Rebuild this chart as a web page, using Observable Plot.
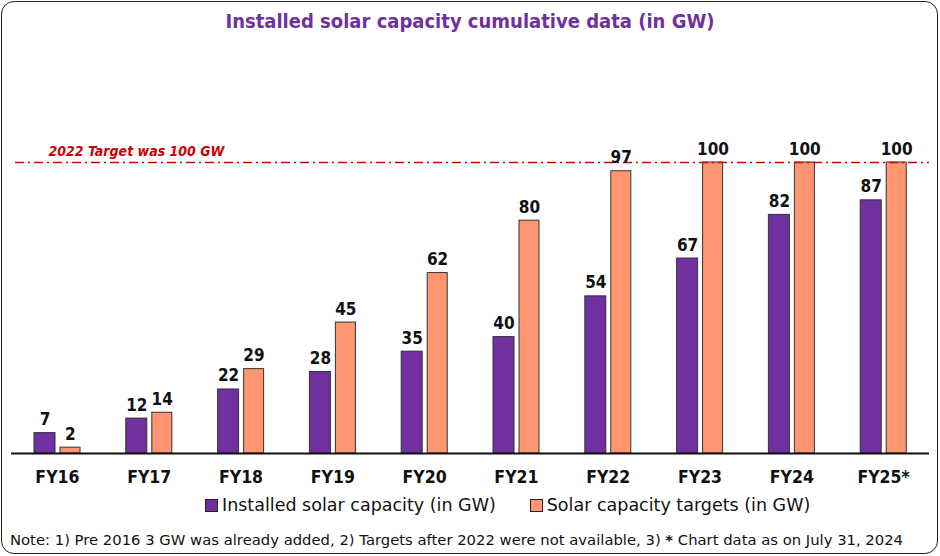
<!DOCTYPE html>
<html>
<head>
<meta charset="utf-8">
<script src="https://cdn.jsdelivr.net/npm/d3@7"></script>
<script src="https://cdn.jsdelivr.net/npm/@observablehq/plot@0.6"></script>
<style>
  html, body { margin: 0; padding: 0; background: #fff; }
  body { width: 940px; height: 556px; overflow: hidden; position: relative; font-family: "DejaVu Sans", sans-serif; }
  #frame { position: absolute; left: 1px; top: 1px; width: 937px; height: 553px; box-sizing: border-box; border: 1.5px solid #222; border-radius: 13px; }
  #title { position: absolute; left: 0; top: 9px; width: 940px; text-align: center; color: #7030A0; font-weight: bold; font-size: 20px; font-family: "DejaVu Sans Condensed", "DejaVu Sans", sans-serif; }
  #chart { position: absolute; left: 0; top: 40px; }
  #legend { position: absolute; left: 205px; top: 495px; font-size: 17.5px; color: #111; display: flex; gap: 34px; white-space: nowrap; }
  #legend .item { display: flex; align-items: center; }
  #legend .sw { width: 11px; height: 11px; border: 1px solid #222; margin-right: 4px; display: inline-block; }
  #note { position: absolute; left: 10px; top: 531px; font-size: 14.8px; color: #111; white-space: nowrap; }
</style>
</head>
<body>
<div id="frame"></div>
<div id="title">Installed solar capacity cumulative data (in GW)</div>
<div id="chart"></div>
<div id="legend"></div>
<div id="note">Note: 1) Pre 2016 3 GW was already added, 2) Targets after 2022 were not available, 3) <b>*</b> Chart data as on July 31, 2024</div>
<script>
const years = ["FY16", "FY17", "FY18", "FY19", "FY20", "FY21", "FY22", "FY23", "FY24", "FY25*"];
const installed = [7, 12, 22, 28, 35, 40, 54, 67, 82, 87];
const targets = [2, 14, 29, 45, 62, 80, 97, 100, 100, 100];
const seriesNames = ["Installed solar capacity (in GW)", "Solar capacity targets (in GW)"];
const seriesColors = ["#7030A0", "#FF9670"];
const targetLine = 100;
const targetLabel = "2022 Target was 100 GW";

const installedData = years.map((y, i) => ({year: y, value: installed[i], series: seriesNames[0]}));
const targetData = years.map((y, i) => ({year: y, value: targets[i], series: seriesNames[1]}));

const plot = Plot.plot({
  width: 940,
  height: 460,
  marginLeft: 11,
  marginRight: 11,
  marginTop: 122,
  marginBottom: 47,
  style: {fontFamily: "'DejaVu Sans Condensed', 'DejaVu Sans', sans-serif", background: "transparent"},
  x: {domain: years, padding: 0, round: false, label: null, tickSize: 0, tickPadding: 17},
  y: {domain: [0, 100], axis: null},
  color: {domain: seriesNames, range: seriesColors},
  marks: [
    Plot.barY(installedData, {x: "year", y: "value", fill: "series", stroke: "#333", strokeWidth: 1, insetLeft: 23, insetRight: 47.8}),
    Plot.barY(targetData, {x: "year", y: "value", fill: "series", stroke: "#333", strokeWidth: 1, insetLeft: 49, insetRight: 22.8}),
    Plot.ruleY([targetLine], {stroke: "#E00000", strokeWidth: 1.5, strokeDasharray: "9,4,2,4", insetLeft: 4}),
    Plot.text([targetLabel], {frameAnchor: "left", dx: 37, dy: -7, y: () => targetLine, text: d => d, fill: "#CC0000", fontSize: 14, fontStyle: "italic", fontWeight: "bold", textAnchor: "start", lineAnchor: "bottom"}),
    Plot.text(installedData, {x: "year", y: "value", text: "value", dx: -12.4, dy: -8, lineAnchor: "bottom", fontSize: 17, fontWeight: "bold", fill: "#111"}),
    Plot.text(targetData, {x: "year", y: "value", text: "value", dx: 13, dy: -8, lineAnchor: "bottom", fontSize: 17, fontWeight: "bold", fill: "#111"}),
    Plot.ruleY([0], {stroke: "#111", strokeWidth: 2}),
    Plot.axisX({tickSize: 0, tickPadding: 17, fontSize: 17.5, fontWeight: "bold", fill: "#111", label: null})
  ]
});
document.getElementById("chart").appendChild(plot);

const legend = document.getElementById("legend");
seriesNames.forEach((name, i) => {
  const item = document.createElement("span");
  item.className = "item";
  const sw = document.createElement("span");
  sw.className = "sw";
  sw.style.background = seriesColors[i];
  item.appendChild(sw);
  item.appendChild(document.createTextNode(name));
  legend.appendChild(item);
});
</script>
</body>
</html>
